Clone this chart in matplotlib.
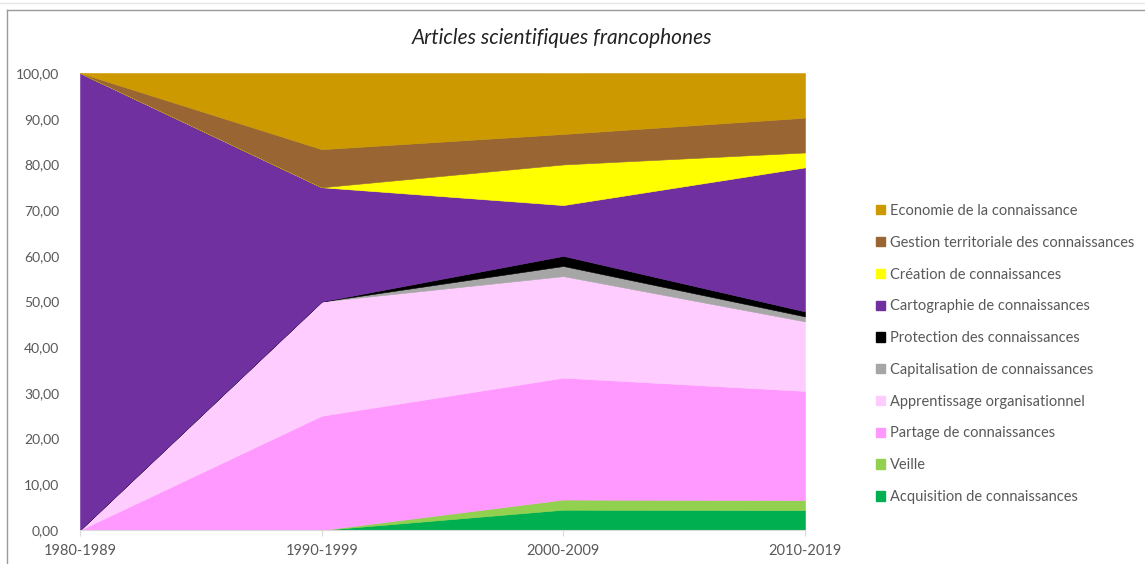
import matplotlib
matplotlib.use("Agg")
import matplotlib.pyplot as plt
from matplotlib.patches import Patch
from matplotlib.lines import Line2D
from matplotlib.ticker import FuncFormatter

# periods on the x axis
periods = ["1980-1989", "1990-1999", "2000-2009", "2010-2019"]

# share of articles (%) per theme, bottom of the stack first
acquisition = [0.0, 0.0, 4.44, 4.35]
veille = [0.0, 0.0, 2.22, 2.17]
partage = [0.0, 25.0, 26.67, 23.91]
apprentissage = [0.0, 25.0, 22.22, 15.22]
capitalisation = [0.0, 0.0, 2.22, 1.09]
protection = [0.0, 0.0, 2.22, 1.09]
cartographie = [100.0, 25.0, 11.11, 31.52]
creation = [0.0, 0.0, 8.89, 3.26]
gestion = [0.0, 8.33, 6.67, 7.61]
economie = [0.0, 16.67, 13.33, 9.78]

labels = [
    "Acquisition de connaissances",
    "Veille",
    "Partage de connaissances",
    "Apprentissage organisationnel",
    "Capitalisation de connaissances",
    "Protection des connaissances",
    "Cartographie de connaissances",
    "Création de connaissances",
    "Gestion territoriale des connaissances",
    "Economie de la connaissance",
]
colors = ["#00B050", "#92D050", "#FF99FF", "#FFCCFF", "#A6A6A6",
          "#000000", "#7030A0", "#FFFF00", "#996633", "#CC9900"]

series = [acquisition, veille, partage, apprentissage, capitalisation,
          protection, cartographie, creation, gestion, economie]

plt.rcParams["font.family"] = ["Lato", "DejaVu Sans"]
text_col = "#595959"

fig = plt.figure(figsize=(11.45, 5.64), dpi=100)
ax = fig.add_axes([80 / 1145, 1 - 530 / 564, 725 / 1145, 457 / 564])

x = list(range(len(periods)))
polys = ax.stackplot(x, *series, colors=colors, labels=labels)
for p, c in zip(polys, colors):
    p.set_edgecolor(c)
    p.set_linewidth(0.4)

ax.set_xlim(0, len(periods) - 1)
ax.set_ylim(0, 100)
ax.set_xticks(x)
ax.set_xticklabels(periods)
ax.set_yticks(range(0, 101, 10))
ax.yaxis.set_major_formatter(FuncFormatter(lambda v, _: f"{v:.2f}".replace(".", ",")))
ax.tick_params(axis="y", length=0, pad=15, labelsize=10, labelcolor=text_col)
ax.tick_params(axis="x", length=4, color="#D9D9D9", pad=6, labelsize=10.5, labelcolor=text_col)
for side in ["top", "right", "left"]:
    ax.spines[side].set_visible(False)
ax.spines["bottom"].set_color("#D9D9D9")

fig.text(562 / 1145, 1 - 38 / 564, "Articles scientifiques francophones",
         ha="center", va="center", fontsize=15, style="italic", color="#222222")

handles = [Patch(facecolor=c, edgecolor=c) for c in colors]
fig.legend(handles[::-1], labels[::-1], loc="center left",
           bbox_to_anchor=(876 / 1145, 1 - 354 / 564), frameon=False,
           fontsize=10.5, handlelength=0.6, handleheight=0.6, handletextpad=0.35,
           labelspacing=1.22, borderpad=0, borderaxespad=0, labelcolor=text_col)

# chart frame as in the screenshot
fig.add_artist(Line2D([7 / 1145, 1], [1 - 10 / 564, 1 - 10 / 564], color="#9A9A9A", lw=1))
fig.add_artist(Line2D([7 / 1145, 7 / 1145], [0, 1 - 10 / 564], color="#9A9A9A", lw=1))
fig.add_artist(Line2D([0, 1], [1 - 3 / 564, 1 - 3 / 564], color="#E6E6E6", lw=1))

fig.savefig("out.png", dpi=100)
